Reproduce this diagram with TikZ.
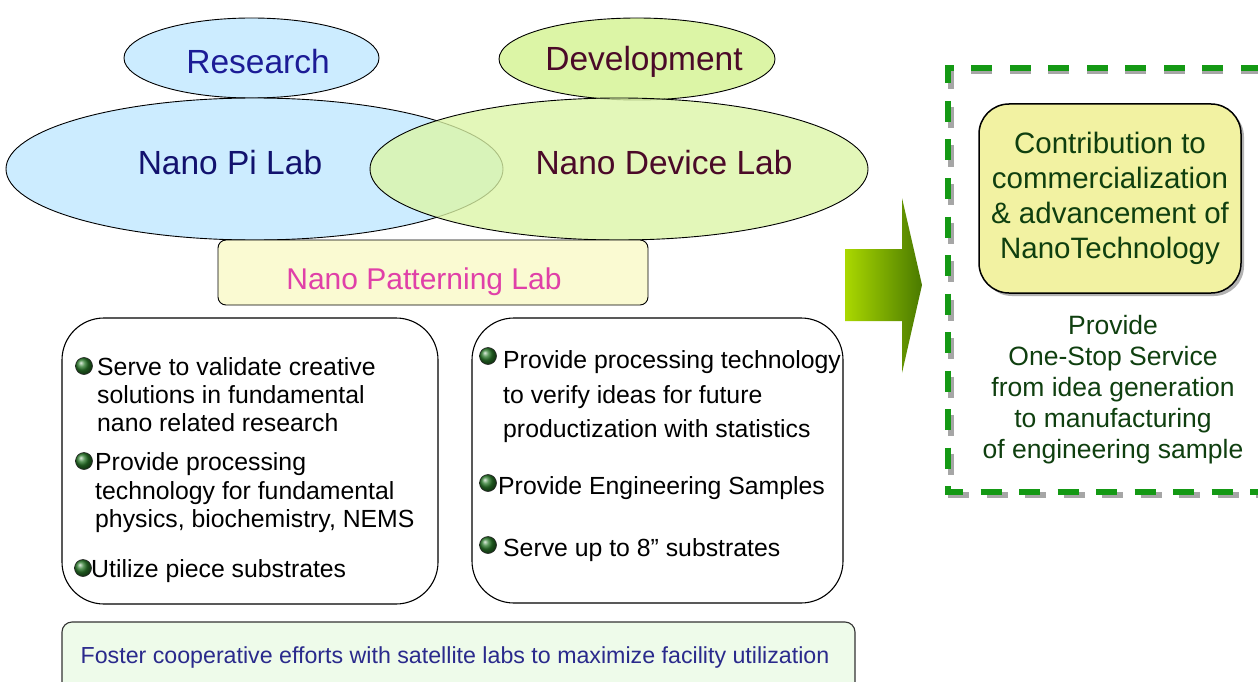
\documentclass[tikz,border=0pt]{standalone}
\usepackage{fontspec}
\setmainfont{Liberation Sans}
\usetikzlibrary{shapes.geometric,shadows}
\definecolor{skyb}{HTML}{CCECFF}
\definecolor{lgreen}{HTML}{DCF5A6}
\definecolor{resblue}{HTML}{1C1C96}
\definecolor{pinavy}{HTML}{12126E}
\definecolor{maroon}{HTML}{4B0A28}
\definecolor{pattfill}{HTML}{FAFAD2}
\definecolor{pattmag}{HTML}{E040A8}
\definecolor{botfill}{HTML}{EEFBEA}
\definecolor{botblue}{HTML}{2A2A8C}
\definecolor{arrL}{HTML}{AAD800}
\definecolor{arrR}{HTML}{4A7A00}
\definecolor{dashgreen}{HTML}{149914}
\definecolor{yelbox}{HTML}{F2F2A2}
\definecolor{dkgreen}{HTML}{0F3F0F}
\definecolor{bulgreen}{HTML}{2A7A2A}
\begin{document}
\begin{tikzpicture}[x=1pt,y=-1pt,
  ell/.style={ellipse, draw=black, line width=0.9pt, inner sep=0pt},
  big/.style={anchor=base, inner sep=0pt, font=\fontsize{33.5}{40}\selectfont},
  bul/.style={circle, inner sep=0pt, minimum size=17pt, shading=ball, ball color=bulgreen, draw=black!85, line width=0.6pt},
  txt/.style={anchor=base west, inner sep=0pt, font=\fontsize{24.8}{29}\selectfont},
  panel/.style={draw=black, line width=1.1pt, rounded corners=42pt, fill=white}
]
\clip (0,0) rectangle (1258,682);
\fill[white] (0,0) rectangle (1258,682);

% ellipses
\node[ell, fill=skyb, minimum width=255pt, minimum height=80pt] (research) at (251.5,58) {};
\node[ell, fill=lgreen, minimum width=276pt, minimum height=82pt] (develop) at (637,59) {};
\node[ell, fill=skyb, minimum width=497pt, minimum height=142pt] (pilab) at (254.5,169) {};
\node[ell, fill=lgreen, fill opacity=0.78, minimum width=498pt, minimum height=142pt] (devlab) at (619,169) {};
\node[big, text=resblue] (researchT) at (258,74) {Research};
\node[big, text=maroon] (developT) at (644,71) {Development};
\node[big, text=pinavy] (pilabT) at (230,174) {Nano Pi Lab};
\node[big, text=maroon] (devlabT) at (664,174) {Nano Device Lab};

% patterning lab
\node[draw=black, line width=0.9pt, fill=pattfill, rounded corners=8pt, minimum width=430pt, minimum height=65pt] (patt) at (433,272.5) {};
\node[anchor=base, inner sep=0pt, text=pattmag, font=\fontsize{30}{36}\selectfont] (pattT) at (424,289) {Nano Patterning Lab};

% panels
\draw[panel] (62,318) rectangle (438,604);
\draw[panel] (472,318) rectangle (843,603);

% left panel text
\node[txt] (a1) at (97,375) {Serve to validate creative};
\node[txt] (a2) at (97,403) {solutions in fundamental};
\node[txt] (a3) at (97,431) {nano related research};
\node[txt] (b1) at (95,470) {Provide processing};
\node[txt] (b2) at (95,499) {technology for fundamental};
\node[txt] (b3) at (95,527) {physics, biochemistry, NEMS};
\node[txt] (c1) at (91,577) {Utilize piece substrates};
\node[bul] (ba) at (84,366) {};
\node[bul] (bb) at (84,461) {};
\node[bul] (bc) at (83,568) {};

% right panel text
\node[txt] (d1) at (503,368) {Provide processing technology};
\node[txt] (d2) at (503,403) {to verify ideas for future};
\node[txt] (d3) at (503,437) {productization with statistics};
\node[txt] (e1) at (498,494) {Provide Engineering Samples};
\node[txt] (f1) at (503,556) {Serve up to 8” substrates};
\node[bul] (bd) at (488,356) {};
\node[bul] (be) at (488,483) {};
\node[bul] (bf) at (488,545) {};

% bottom box
\draw[draw=black!80, line width=1.1pt, fill=botfill, rounded corners=10pt] (62,622) rectangle (855,700);
\node[anchor=base, inner sep=0pt, text=botblue, font=\fontsize{23.2}{28}\selectfont] (foster) at (455,663) {Foster cooperative efforts with satellite labs to maximize facility utilization};

% gradient arrow
\shade[left color=arrL, right color=arrR] (845,249) -- (902,249) -- (902,198) -- (922,285) -- (902,373) -- (902,321) -- (845,321) -- cycle;

% dashed box with shadow
\draw[black!35, line width=6pt, dash pattern=on 21pt off 17.5pt] (1300,71) -- (951,71) -- (951,495) -- (1300,495);
\draw[dashgreen, line width=6pt, dash pattern=on 21pt off 17.5pt] (1300,68) -- (948,68) -- (948,492) -- (1300,492);

% yellow box
\node[draw=black, line width=1.5pt, fill=yelbox, rounded corners=30pt, minimum width=262pt, minimum height=189pt,
  drop shadow={shadow xshift=3pt, shadow yshift=-3pt, opacity=0.6, fill=black!50},
  text=dkgreen, align=center, font=\fontsize{29.5}{35}\selectfont] (contrib) at (1110,198.5)
  {Contribution to\\commercialization\\\& advancement of\\NanoTechnology};

\node[text=dkgreen, align=center, inner sep=0pt, font=\fontsize{26.5}{31}\selectfont] (service) at (1113,390)
  {Provide\\One-Stop Service\\from idea generation\\to manufacturing\\of engineering sample};
\end{tikzpicture}
\end{document}
